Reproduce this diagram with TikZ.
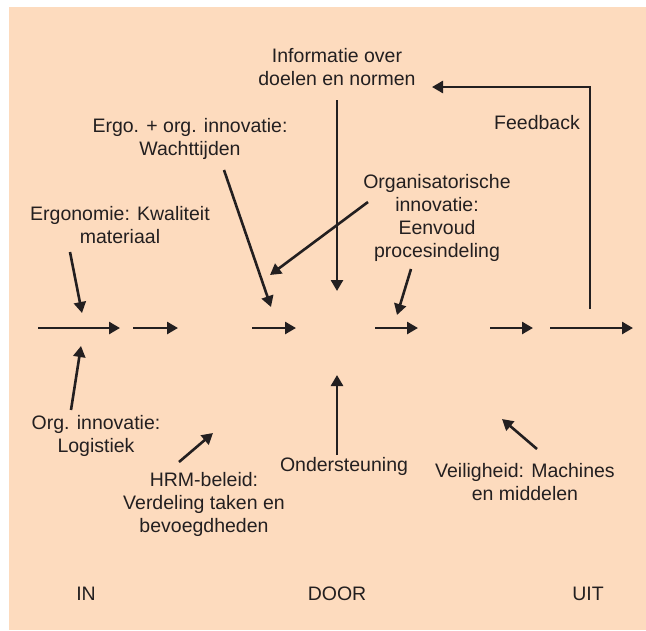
\documentclass[tikz,border=0pt]{standalone}
\usepackage{xcolor}
\usepackage{fontspec}
\setmainfont{Liberation Sans}
\usetikzlibrary{arrows.meta}
\definecolor{cpeach}{HTML}{FDDBBE}
\definecolor{cink}{HTML}{231F20}

\begin{document}
\begin{tikzpicture}[x=1pt, y=-1pt]
    \tikzset{
        lbl/.style={align=center, text=cink, inner sep=0pt, font=\fontsize{19.5}{23}\selectfont},
        flow/.style={draw=cink, line width=2.6pt, -{Triangle[length=11pt, width=12pt]}}
    }

    \useasboundingbox (0,0) rectangle (646,630);
    \fill[cpeach] (9,7) rectangle (646,630);

    \node[lbl] (info) at (337,67) {Informatie over\\doelen en normen};
    \node[lbl] (feedback) at (537,123) {Feedback};
    \node[lbl] (wacht) at (190,139) {Ergo. + org. innovatie:\\Wachttijden};
    \node[lbl] (eenvoud) at (437,218) {Organisatorische\\innovatie:\\Eenvoud\\procesindeling};
    \node[lbl] (kwaliteit) at (120,225) {Ergonomie: Kwaliteit\\materiaal};
    \node[lbl] (logistiek) at (96,436) {Org. innovatie:\\Logistiek};
    \node[lbl] (hrm) at (204,504) {HRM-beleid:\\Verdeling taken en\\bevoegdheden};
    \node[lbl] (steun) at (344,466) {Ondersteuning};
    \node[lbl] (veilig) at (525,482) {Veiligheid: Machines\\en middelen};

    \node[lbl] (in_lbl) at (86,594) {IN};
    \node[lbl] (door_lbl) at (337,594) {DOOR};
    \node[lbl] (uit_lbl) at (588,594) {UIT};

    % main line of short arrows
    \foreach \i/\a/\b in {1/38/120, 2/133/178, 3/252/296, 4/375/418, 5/490/533, 6/550/633} {
        \coordinate (s\i) at (\a,328);
        \coordinate (e\i) at (\b,328);
        \path[flow] (s\i) -- (e\i);
    }

    % arrow ends
    \coordinate (info_tail) at (337,100);
    \coordinate (info_tip) at (337,291);
    \coordinate (wacht_tail) at (224,170);
    \coordinate (wacht_tip) at (271,307);
    \coordinate (eenv_tail1) at (368,202);
    \coordinate (eenv_tip1) at (270,275);
    \coordinate (eenv_tail2) at (411,269);
    \coordinate (eenv_tip2) at (397,315);
    \coordinate (kwal_tail) at (70,252);
    \coordinate (kwal_tip) at (82,313);
    \coordinate (log_tail) at (71,410);
    \coordinate (log_tip) at (81,346);
    \coordinate (hrm_tail) at (179,462);
    \coordinate (hrm_tip) at (213,433);
    \coordinate (steun_tail) at (337,455);
    \coordinate (steun_tip) at (337,375);
    \coordinate (veilig_tail) at (537,449);
    \coordinate (veilig_tip) at (502,419);
    \coordinate (fb_tail) at (590,309);
    \coordinate (fb_tip) at (432,87);

    \path[flow] (info_tail) -- (info_tip);
    \path[flow] (wacht_tail) -- (wacht_tip);
    \path[flow] (eenv_tail1) -- (eenv_tip1);
    \path[flow] (eenv_tail2) -- (eenv_tip2);
    \path[flow] (kwal_tail) -- (kwal_tip);
    \path[flow] (log_tail) -- (log_tip);
    \path[flow] (hrm_tail) -- (hrm_tip);
    \path[flow] (steun_tail) -- (steun_tip);
    \path[flow] (veilig_tail) -- (veilig_tip);
    \path[flow] (fb_tail) |- (fb_tip);
\end{tikzpicture}
\end{document}
